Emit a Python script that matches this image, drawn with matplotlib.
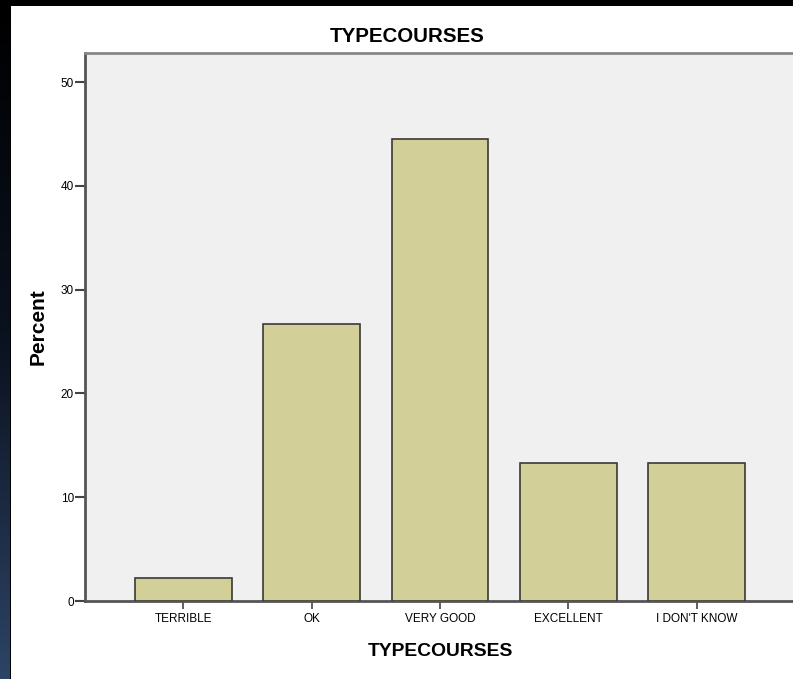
import numpy as np
import matplotlib
matplotlib.use("Agg")
import matplotlib.pyplot as plt
from matplotlib.patches import Rectangle
from matplotlib.colors import LinearSegmentedColormap

categories = ["TERRIBLE", "OK", "VERY GOOD", "EXCELLENT", "I DON'T KNOW"]
percent = [2.2, 26.7, 44.5, 13.3, 13.3]
yticks = [0, 10, 20, 30, 40, 50]
title = "TYPECOURSES"
xlabel = "TYPECOURSES"
ylabel = "Percent"

plt.rcParams['font.family'] = ['Liberation Sans', 'DejaVu Sans']

W, H = 793, 679
fig = plt.figure(figsize=(W / 100, H / 100), dpi=100, facecolor='black')

# white panel
fig.patches.append(Rectangle((11 / W, 0), 1, 1 - 6 / H, transform=fig.transFigure,
                             facecolor='white', edgecolor='none', zorder=-10))
# left gradient strip
gax = fig.add_axes([0, 0, 10 / W, 1 - 6 / H])
grad = np.linspace(0, 1, 256).reshape(-1, 1)
cmap = LinearSegmentedColormap.from_list('g', ['#000000', '#0b1220', '#2d4466'])
gax.imshow(grad, aspect='auto', cmap=cmap, origin='upper')
gax.axis('off')

left, right, top, bottom = 85, 795, 53, 601
ax = fig.add_axes([left / W, 1 - bottom / H, (right - left) / W, (bottom - top) / H])
ax.set_facecolor('#f0f0f0')
x = np.arange(len(categories))
ax.bar(x, percent, width=0.756, color='#d3cf98', edgecolor='#3a3a34', linewidth=1.2, zorder=3)
ax.set_xlim(-0.768, len(categories) - 1 + 0.768)
ax.set_ylim(0, 52.8)
ax.set_yticks(yticks)
ax.set_yticklabels([str(v) for v in yticks], fontsize=8.5)
ax.set_xticks(x)
ax.set_xticklabels(categories, fontsize=8.5)
ax.tick_params(axis='y', length=7, width=1.5, color='#444444', pad=1)
ax.tick_params(axis='x', length=6, width=1.2, color='#444444', pad=3)
for s in ['left', 'bottom']:
    ax.spines[s].set_color('#555555')
    ax.spines[s].set_linewidth(2)
ax.spines['top'].set_color('#888888')
ax.spines['top'].set_linewidth(2)
ax.spines['right'].set_visible(False)

fig.text(407 / W, 1 - 37 / H, title, ha='center', va='center', fontsize=14.8, fontweight='bold')
fig.text(440 / W, 1 - 652 / H, xlabel, ha='center', va='center', fontsize=13.9, fontweight='bold')
fig.text(38 / W, 1 - 327 / H, ylabel, ha='center', va='center', fontsize=15, fontweight='bold', rotation=90)

fig.savefig('out.png', dpi=100, facecolor='black')
